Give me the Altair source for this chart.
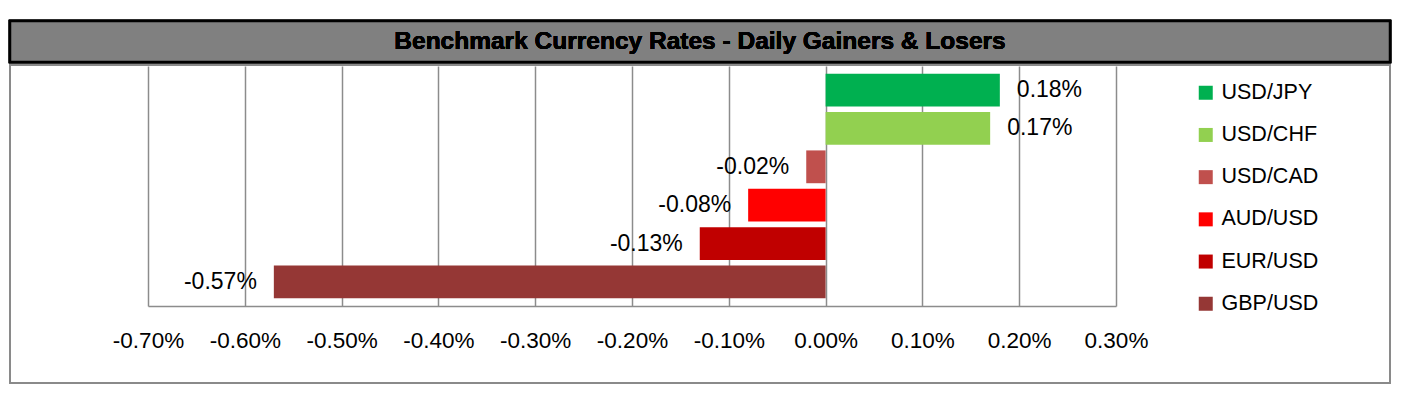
import altair as alt
import pandas as pd

pairs = ["USD/JPY", "USD/CHF", "USD/CAD", "AUD/USD", "EUR/USD", "GBP/USD"]
changes = [0.18, 0.17, -0.02, -0.08, -0.13, -0.57]
colors = ["#00B050", "#92D050", "#C0504D", "#FF0000", "#C00000", "#953735"]
tick_values = [-0.7, -0.6, -0.5, -0.4, -0.3, -0.2, -0.1, 0.0, 0.1, 0.2, 0.3]
title_text = "Benchmark Currency Rates - Daily Gainers & Losers"

df = pd.DataFrame({"pair": pairs, "change": changes})
df["zero"] = 0.0
df["label"] = [f"{v:.2f}%" for v in changes]

FONT = "Liberation Sans"
W, H = 968, 240

xscale = alt.Scale(domain=[-0.7, 0.3], nice=False, zero=False)
yscale = alt.Scale(domain=pairs, paddingInner=0.145, paddingOuter=0.2)
cscale = alt.Scale(domain=pairs, range=colors)

base = alt.Chart(df)

outer_box = base.mark_rect(fill="#ffffff", fillOpacity=0, stroke="#8a8a8a", strokeWidth=1.5, clip=False).encode(
    x=alt.value(-138), x2=alt.value(1242), y=alt.value(-1), y2=alt.value(317)
)
title_box = base.mark_rect(fill="#808080", stroke="#000000", strokeWidth=2.5, clip=False).encode(
    x=alt.value(-138), x2=alt.value(1242), y=alt.value(-45), y2=alt.value(-4)
)
title = base.mark_text(
    text=title_text, font=FONT, fontSize=24.5, fontWeight="bold", color="#000000",
    align="center", baseline="middle", clip=False
).encode(x=alt.value(552), y=alt.value(-24))

bars = base.mark_bar().encode(
    x=alt.X(
        "change:Q", scale=xscale,
        axis=alt.Axis(
            values=tick_values, title=None, grid=True, gridColor="#8c8c8c", gridWidth=1.5,
            domainColor="#8c8c8c", domainWidth=1.5, ticks=False,
            labelExpr="(datum.value < -0.0001 ? '-' : '') + format(abs(datum.value), '.2f') + '%'",
            labelFont=FONT, labelFontSize=22.5, labelColor="#000000", labelPadding=23,
            labelFlush=False, labelOverlap=False,
        ),
    ),
    x2="zero:Q",
    y=alt.Y("pair:N", scale=yscale, axis=None),
    color=alt.Color(
        "pair:N", scale=cscale,
        legend=alt.Legend(
            title=None, orient="none", legendX=1047, legendY=16,
            symbolType="square", symbolSize=196, symbolStrokeWidth=0, symbolOpacity=1,
            labelFont=FONT, labelFontSize=21.5, labelColor="#000000",
            rowPadding=19.2, labelOffset=5,
        ),
    ),
)

pos_labels = base.transform_filter("datum.change >= 0").mark_text(
    align="left", baseline="middle", dx=17, font=FONT, fontSize=23, color="#000000"
).encode(
    x=alt.X("change:Q", scale=xscale),
    y=alt.Y("pair:N", scale=yscale),
    text="label:N",
)
neg_labels = base.transform_filter("datum.change < 0").mark_text(
    align="right", baseline="middle", dx=-17, font=FONT, fontSize=23, color="#000000"
).encode(
    x=alt.X("change:Q", scale=xscale),
    y=alt.Y("pair:N", scale=yscale),
    text="label:N",
)

chart = alt.layer(outer_box, title_box, title, bars, pos_labels, neg_labels).properties(
    width=W, height=H,
    autosize=alt.AutoSizeParams(type="none"),
    padding={"left": 140, "top": 58, "right": 302, "bottom": 85},
    background="#ffffff",
).configure_view(strokeWidth=0)

chart.save("out.html", embed_options={"renderer": "svg", "actions": False})
